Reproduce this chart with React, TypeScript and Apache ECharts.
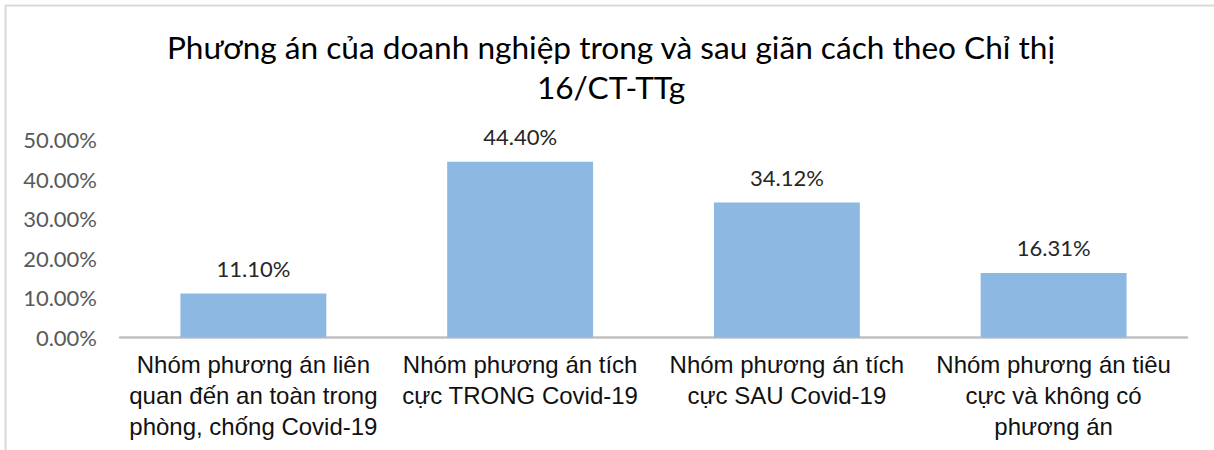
import React, { useEffect, useRef } from "react";
import * as echarts from "echarts";

const titleText = "Phương án của doanh nghiệp trong và sau giãn cách theo Chỉ thị\n16/CT-TTg";
const categories = [
  "Nhóm phương án liên\nquan đến an toàn trong\nphòng, chống Covid-19",
  "Nhóm phương án tích\ncực TRONG Covid-19",
  "Nhóm phương án tích\ncực SAU Covid-19",
  "Nhóm phương án tiêu\ncực và không có\nphương án",
];
const values = [0.111, 0.444, 0.3412, 0.1631];
const yMin = 0;
const yMax = 0.5;
const yInterval = 0.1;

export default function App() {
  const ref = useRef<HTMLDivElement>(null);
  useEffect(() => {
    if (!ref.current) return;
    const chart = echarts.init(ref.current, null, { renderer: "svg" });
    chart.setOption({
      animation: false,
      backgroundColor: "#ffffff",
      title: {
        text: titleText,
        left: 606,
        top: 22,
        textAlign: "center",
        textStyle: {
          fontFamily: "Lato",
          fontSize: 31.6,
          fontWeight: "normal",
          color: "#000000",
          lineHeight: 40,
        },
      },
      graphic: [
        {
          type: "rect",
          shape: { x: 5.5, y: 5.5, width: 1400, height: 600 },
          style: { fill: "none", stroke: "#d9d9d9", lineWidth: 2 },
          silent: true,
        },
      ],
      grid: { left: 120, right: 27, top: 139.5, bottom: 112.5, containLabel: false },
      xAxis: {
        type: "category",
        data: categories,
        axisLine: { lineStyle: { color: "#c0c0c0", width: 2.5 } },
        axisTick: { show: false },
        axisLabel: {
          interval: 0,
          margin: 11,
          fontFamily: "Liberation Sans",
          fontSize: 24,
          lineHeight: 31,
          color: "#111111",
        },
      },
      yAxis: {
        type: "value",
        min: yMin,
        max: yMax,
        interval: yInterval,
        splitLine: { show: false },
        axisLine: { show: false },
        axisTick: { show: false },
        axisLabel: {
          margin: 23,
          fontFamily: "Lato",
          fontSize: 22,
          color: "#595959",
          formatter: (v: number) => (v * 100).toFixed(2) + "%",
        },
      },
      series: [
        {
          type: "bar",
          data: values,
          barWidth: "54.7%",
          itemStyle: { color: "#8db8e2" },
          label: {
            show: true,
            position: "top",
            distance: 14,
            fontFamily: "Lato",
            fontSize: 22,
            color: "#262626",
            formatter: (p: any) => (p.value * 100).toFixed(2) + "%",
          },
        },
      ],
    });
    return () => chart.dispose();
  }, []);
  return (
    <div
      ref={ref}
      style={{ position: "absolute", left: 0, top: 0, width: 1214, height: 450 }}
    />
  );
}
